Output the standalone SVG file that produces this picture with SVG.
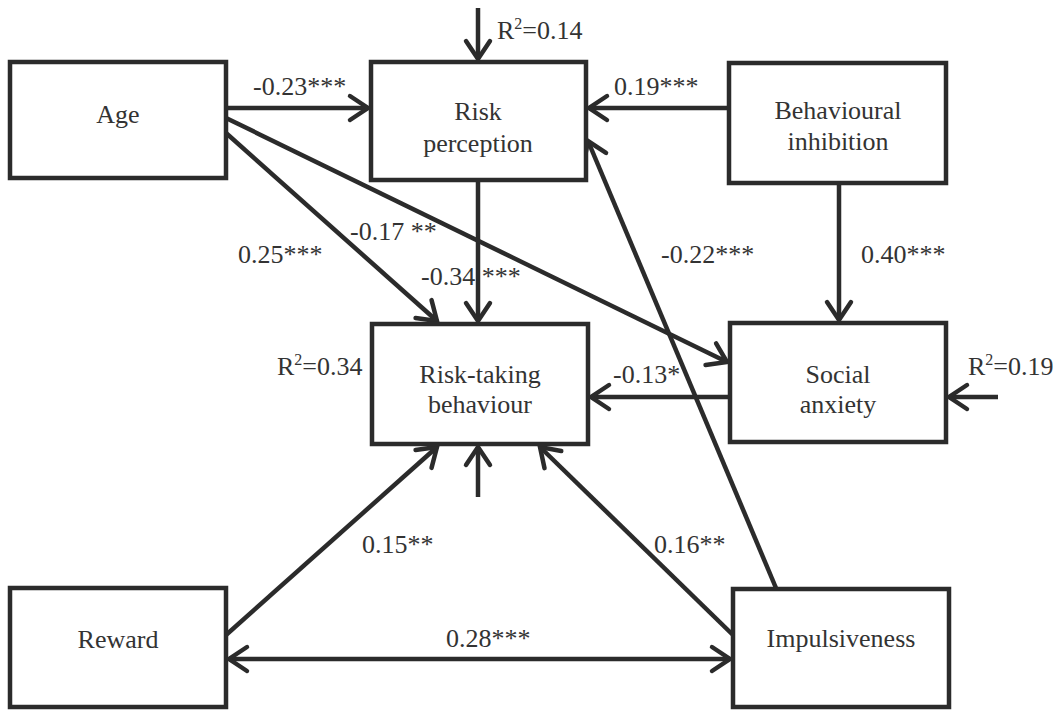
<svg xmlns="http://www.w3.org/2000/svg" width="1053" height="711" viewBox="0 0 1053 711" font-family="'Liberation Serif', 'DejaVu Serif', 'Times New Roman', serif">
<style>
.box{fill:#fff;stroke:#2b2b2b;stroke-width:4.5}
.ln{fill:none;stroke:#2b2b2b;stroke-width:4.5}
text{font-size:26px;fill:#333}
.c{text-anchor:middle}
.sup{font-size:16px}
</style>
<defs>
<marker id="ah" markerUnits="userSpaceOnUse" markerWidth="34" markerHeight="34" viewBox="-24 -17 34 34" refX="0" refY="0" orient="auto-start-reverse">
<path d="M-18,-12 L0,0 L-18,12" fill="none" stroke="#2b2b2b" stroke-width="4.5" stroke-linecap="round"/>
</marker>
</defs>
<g id="connectors">
<line class="ln" x1="226" y1="108" x2="368" y2="108" marker-end="url(#ah)"/>
<line class="ln" x1="729" y1="108" x2="589" y2="108" marker-end="url(#ah)"/>
<line class="ln" x1="478" y1="8" x2="478" y2="59" marker-end="url(#ah)"/>
<line class="ln" x1="478" y1="180" x2="478" y2="321" marker-end="url(#ah)"/>
<line class="ln" x1="226" y1="133" x2="437" y2="321" marker-end="url(#ah)"/>
<line class="ln" x1="226" y1="118" x2="727" y2="362" marker-end="url(#ah)"/>
<line class="ln" x1="776" y1="588" x2="588" y2="141" marker-end="url(#ah)"/>
<line class="ln" x1="839" y1="183" x2="839" y2="320" marker-end="url(#ah)"/>
<line class="ln" x1="730" y1="397" x2="591" y2="397" marker-end="url(#ah)"/>
<line class="ln" x1="998" y1="397" x2="949" y2="397" marker-end="url(#ah)"/>
<line class="ln" x1="478" y1="497" x2="478" y2="447" marker-end="url(#ah)"/>
<line class="ln" x1="226" y1="635" x2="437" y2="447" marker-end="url(#ah)"/>
<line class="ln" x1="733" y1="635" x2="540" y2="447" marker-end="url(#ah)"/>
<line class="ln" x1="229" y1="659" x2="730" y2="659" marker-start="url(#ah)" marker-end="url(#ah)"/>
</g>
<g id="age"><rect class="box" x="10" y="62" width="216" height="116"/><text class="c" x="118" y="123">Age</text></g>
<g id="risk-perception"><rect class="box" x="371" y="62" width="215" height="118"/><text class="c" x="478" y="120">Risk</text><text class="c" x="478" y="152">perception</text></g>
<g id="behavioural-inhibition"><rect class="box" x="729" y="63" width="217" height="120"/><text class="c" x="838" y="119">Behavioural</text><text class="c" x="838" y="150">inhibition</text></g>
<g id="risk-taking"><rect class="box" x="372" y="324" width="216" height="120"/><text class="c" x="480" y="383">Risk-taking</text><text class="c" x="480" y="413">behaviour</text></g>
<g id="social-anxiety"><rect class="box" x="730" y="323" width="216" height="119"/><text class="c" x="838" y="383">Social</text><text class="c" x="838" y="413">anxiety</text></g>
<g id="reward"><rect class="box" x="10" y="588" width="216" height="119"/><text class="c" x="118" y="648">Reward</text></g>
<g id="impulsiveness"><rect class="box" x="733" y="589" width="216" height="118"/><text class="c" x="841" y="647">Impulsiveness</text></g>
<g id="labels">
<text x="497" y="39">R<tspan class="sup" dy="-10">2</tspan><tspan dy="10">=0.14</tspan></text>
<text x="253" y="95">-0.23***</text>
<text x="614" y="95">0.19***</text>
<text x="350" y="240">-0.17 **</text>
<text x="238" y="263">0.25***</text>
<text x="421" y="285">-0.34 ***</text>
<text x="661" y="263">-0.22***</text>
<text x="861" y="263">0.40***</text>
<text x="277" y="375">R<tspan class="sup" dy="-10">2</tspan><tspan dy="10">=0.34</tspan></text>
<text x="613" y="383">-0.13*</text>
<text x="968" y="375">R<tspan class="sup" dy="-10">2</tspan><tspan dy="10">=0.19</tspan></text>
<text x="362" y="553">0.15**</text>
<text x="654" y="553">0.16**</text>
<text x="446" y="647">0.28***</text>
</g>
</svg>
